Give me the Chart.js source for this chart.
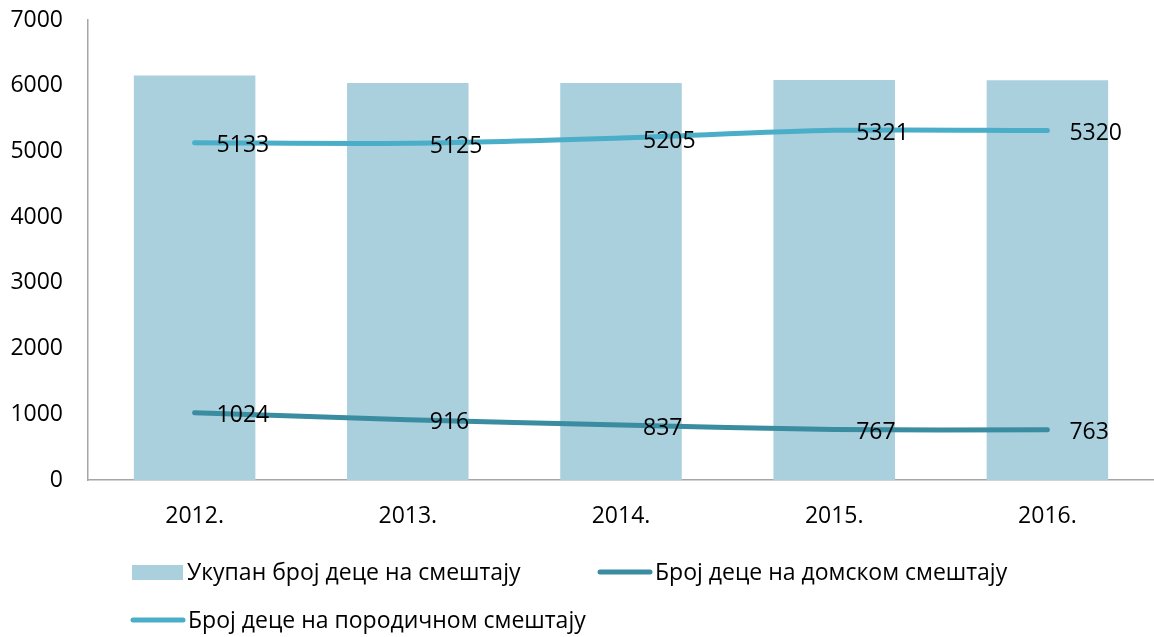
<!DOCTYPE html>
<html>
<head>
<meta charset="utf-8">
<script src="https://cdn.jsdelivr.net/npm/chart.js@4.4.1/dist/chart.umd.min.js"></script>
<style>
  html, body { margin: 0; background: #fff; }
  #wrap { width: 1154px; height: 637px; }
</style>
</head>
<body>
<div id="wrap"><canvas id="chart" width="1154" height="637"></canvas></div>
<script>
/* ---------- data ---------- */
const years = ['2012.', '2013.', '2014.', '2015.', '2016.'];
const totalKids = [6157, 6041, 6042, 6088, 6083];
const institutionKids = [1024, 916, 837, 767, 763];
const fosterKids = [5133, 5125, 5205, 5321, 5320];
const yTicks = [0, 1000, 2000, 3000, 4000, 5000, 6000, 7000];

const labelTotal = 'Укупан број деце на смештају';
const labelInstitution = 'Број деце на домском смештају';
const labelFoster = 'Број деце на породичном смештају';

const FONT = '"Open Sans", sans-serif';
const FONT_SIZE = 23;
const BAR_COLOR = '#aacfdd';
const DARK_TEAL = '#3a8ca0';
const LIGHT_TEAL = '#4aaec8';

/* ---------- value labels next to line points ---------- */
const lineLabels = {
  id: 'lineLabels',
  afterDatasetsDraw(chart) {
    const ctx = chart.ctx;
    ctx.save();
    ctx.font = FONT_SIZE + 'px ' + FONT;
    ctx.fillStyle = '#000';
    ctx.textAlign = 'left';
    ctx.textBaseline = 'middle';
    chart.data.datasets.forEach((ds, i) => {
      if (ds.type !== 'line') return;
      chart.getDatasetMeta(i).data.forEach((pt, j) => {
        ctx.fillText(String(ds.data[j]), pt.x + 22, pt.y + 3);
      });
    });
    ctx.restore();
  }
};

/* ---------- legend below the plot ---------- */
const bottomLegend = {
  id: 'bottomLegend',
  afterDraw(chart) {
    const ctx = chart.ctx;
    const items = [
      { ds: 0, x: 132, y: 572 },
      { ds: 1, x: 597, y: 572 },
      { ds: 2, x: 130, y: 620 }
    ];
    ctx.save();
    ctx.font = FONT_SIZE + 'px ' + FONT;
    ctx.textBaseline = 'middle';
    items.forEach(it => {
      const ds = chart.data.datasets[it.ds];
      let textX;
      if (ds.type === 'line') {
        ctx.strokeStyle = ds.borderColor;
        ctx.lineWidth = 5;
        ctx.lineCap = 'round';
        ctx.beginPath();
        ctx.moveTo(it.x + 3, it.y);
        ctx.lineTo(it.x + 53, it.y);
        ctx.stroke();
        textX = it.x + 58;
      } else {
        ctx.fillStyle = ds.backgroundColor;
        ctx.fillRect(it.x, it.y - 7, 51, 15);
        textX = it.x + 55;
      }
      ctx.fillStyle = '#000';
      ctx.fillText(ds.label, textX, it.y + 1);
    });
    ctx.restore();
  }
};

new Chart(document.getElementById('chart'), {
  type: 'bar',
  data: {
    labels: years,
    datasets: [
      {
        type: 'bar',
        label: labelTotal,
        data: totalKids,
        backgroundColor: BAR_COLOR,
        barPercentage: 0.57,
        categoryPercentage: 1,
        order: 3
      },
      {
        type: 'line',
        label: labelInstitution,
        data: institutionKids,
        borderColor: DARK_TEAL,
        borderWidth: 5,
        borderCapStyle: 'round',
        tension: 0.3,
        pointRadius: 0,
        fill: false,
        order: 2
      },
      {
        type: 'line',
        label: labelFoster,
        data: fosterKids,
        borderColor: LIGHT_TEAL,
        borderWidth: 5,
        borderCapStyle: 'round',
        tension: 0.3,
        pointRadius: 0,
        fill: false,
        order: 1
      }
    ]
  },
  options: {
    responsive: false,
    animation: false,
    layout: { padding: { top: 20, left: 0, right: 0, bottom: 0 } },
    plugins: {
      legend: { display: false },
      tooltip: { enabled: false }
    },
    scales: {
      x: {
        grid: { display: false, drawTicks: false },
        border: { display: true, color: '#a6a6a6', width: 1.5 },
        ticks: { color: '#000', font: { family: FONT, size: FONT_SIZE }, padding: 23 },
        afterFit: s => { s.height = 157; }
      },
      y: {
        min: 0,
        max: 7000,
        grid: { display: false, drawTicks: false },
        border: { display: true, color: '#a6a6a6', width: 1.5 },
        afterBuildTicks: s => { s.ticks = yTicks.map(v => ({ value: v })); },
        ticks: {
          color: '#000',
          font: { family: FONT, size: FONT_SIZE },
          padding: 25,
          callback: v => String(v)
        },
        afterFit: s => {
          s.width = 88;
          s.paddingTop = 0;
          s.paddingBottom = 0;
        }
      }
    }
  },
  plugins: [lineLabels, bottomLegend]
});
</script>
</body>
</html>
